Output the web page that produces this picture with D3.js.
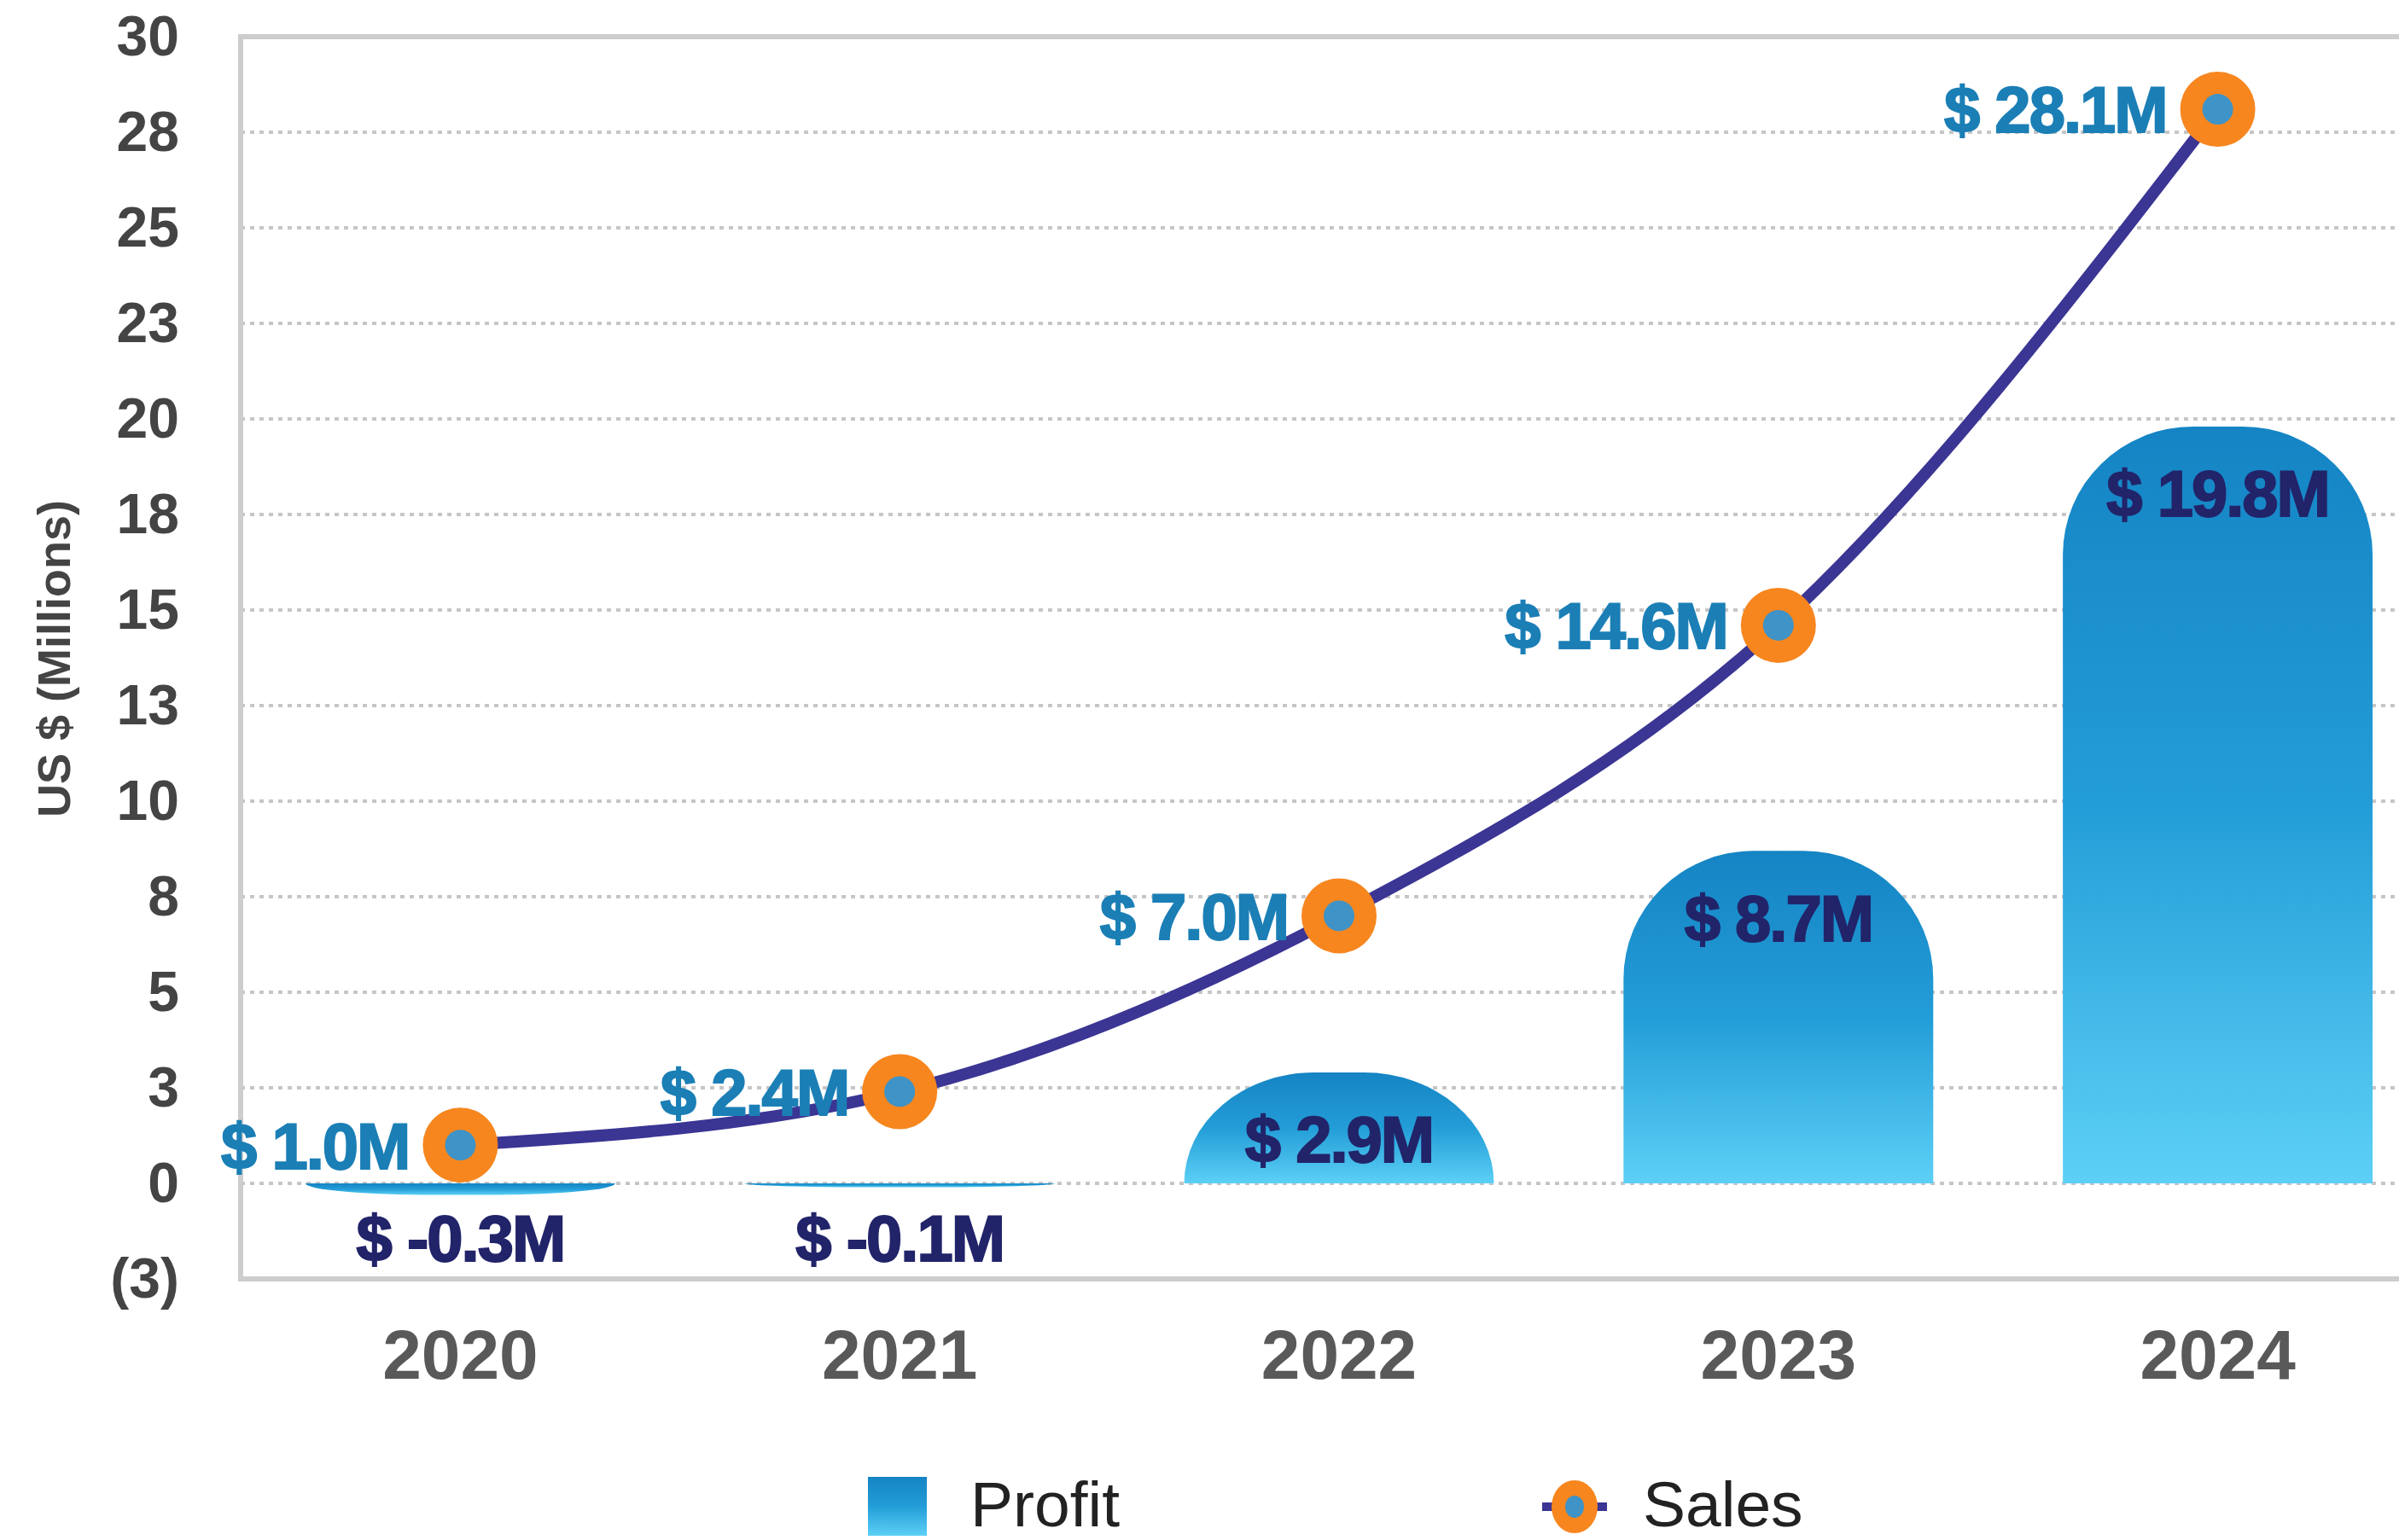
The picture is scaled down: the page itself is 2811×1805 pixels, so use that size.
<!DOCTYPE html>
<html>
<head>
<meta charset="utf-8">
<script src="https://cdn.jsdelivr.net/npm/d3@7"></script>
<style>
  html, body { margin: 0; padding: 0; background: #fff; }
  text { font-family: "Liberation Sans", Arial, Helvetica, sans-serif; }
</style>
</head>
<body>
<div id="chart"></div>
<script>
/* DATA */
const years = ["2020", "2021", "2022", "2023", "2024"];
const profit = [-0.3, -0.1, 2.9, 8.7, 19.8];
const sales = [1.0, 2.4, 7.0, 14.6, 28.1];
const yTickValues = [-2.5, 0, 2.5, 5, 7.5, 10, 12.5, 15, 17.5, 20, 22.5, 25, 27.5, 30];
const yTickLabels = ["(3)", "0", "3", "5", "8", "10", "13", "15", "18", "20", "23", "25", "28", "30"];

/* CONSTANTS */
const width = 2811,
  height = 1805,
  plot = { left: 282, right: 2856, top: 43, bottom: 1499 };

const rows = years.map((y, i) => ({ year: y, profit: profit[i], sales: sales[i] }));

const svg = d3.select("#chart")
  .append("svg")
  .attr("width", width)
  .attr("height", height);

// gradients
const defs = svg.append("defs");
const barGrad = defs.append("linearGradient")
  .attr("id", "barGrad")
  .attr("x1", 0).attr("y1", 0).attr("x2", 0).attr("y2", 1);
barGrad.append("stop").attr("offset", "0%").attr("stop-color", "#1584c4");
barGrad.append("stop").attr("offset", "50%").attr("stop-color", "#239dd7");
barGrad.append("stop").attr("offset", "100%").attr("stop-color", "#5cd0f6");

/* SCALES */
const xScale = d3.scaleBand()
  .domain(years)
  .range([plot.left, plot.right])
  .paddingInner(0.295)
  .paddingOuter(0.1475);

const yScale = d3.scaleLinear()
  .domain([-2.5, 30])
  .range([plot.bottom, plot.top]);

const cx = y => xScale(y) + xScale.bandwidth() / 2;

// + GRIDLINES
svg.append("g")
  .selectAll("line")
  .data(yTickValues.filter(v => v > -2.5 && v < 30))
  .join("line")
  .attr("x1", plot.left)
  .attr("x2", plot.right)
  .attr("y1", d => yScale(d))
  .attr("y2", d => yScale(d))
  .attr("stroke", "#c6c6c6")
  .attr("stroke-width", 4)
  .attr("stroke-dasharray", "5,6");

// + FRAME
svg.append("rect")
  .attr("x", plot.left)
  .attr("y", plot.top)
  .attr("width", plot.right - plot.left)
  .attr("height", plot.bottom - plot.top)
  .attr("fill", "none")
  .attr("stroke", "#cdcdcd")
  .attr("stroke-width", 6);

// + AXES
const yAxis = d3.axisLeft(yScale)
  .tickValues(yTickValues)
  .tickFormat(d => yTickLabels[yTickValues.indexOf(d)])
  .tickSize(0)
  .tickPadding(72);

const yAxisGroup = svg.append("g")
  .attr("transform", `translate(${plot.left},0)`)
  .call(yAxis);
yAxisGroup.select(".domain").remove();
yAxisGroup.selectAll("text")
  .attr("font-family", "Liberation Sans, Arial, sans-serif")
  .attr("font-size", 66)
  .attr("font-weight", "bold")
  .attr("fill", "#444");

const xAxis = d3.axisBottom(xScale).tickSize(0).tickPadding(59);
const xAxisGroup = svg.append("g")
  .attr("transform", `translate(0,${plot.bottom})`)
  .call(xAxis);
xAxisGroup.select(".domain").remove();
xAxisGroup.selectAll("text")
  .attr("font-family", "Liberation Sans, Arial, sans-serif")
  .attr("font-size", 82)
  .attr("font-weight", "bold")
  .attr("fill", "#595959");

svg.append("text")
  .attr("transform", `translate(63,772) rotate(-90)`)
  .attr("text-anchor", "middle")
  .attr("dominant-baseline", "central")
  .attr("font-size", 54)
  .attr("font-weight", "bold")
  .attr("fill", "#444")
  .text("US $ (Millions)");

// + PROFIT BARS (rounded at the far end)
function barPath(d) {
  const x0 = xScale(d.year), w = xScale.bandwidth();
  const y0 = yScale(0), y1 = yScale(d.profit);
  const h = Math.abs(y1 - y0);
  const rx = w * 0.42, ry = Math.min(150, h);
  if (d.profit >= 0) {
    return `M${x0},${y0}L${x0},${y1 + ry}A${rx},${ry} 0 0 1 ${x0 + rx},${y1}` +
      `L${x0 + w - rx},${y1}A${rx},${ry} 0 0 1 ${x0 + w},${y1 + ry}L${x0 + w},${y0}Z`;
  }
  return `M${x0},${y0}L${x0},${y1 - ry}A${rx},${ry} 0 0 0 ${x0 + rx},${y1}` +
    `L${x0 + w - rx},${y1}A${rx},${ry} 0 0 0 ${x0 + w},${y1 - ry}L${x0 + w},${y0}Z`;
}

svg.append("g")
  .selectAll("path")
  .data(rows)
  .join("path")
  .attr("d", barPath)
  .attr("fill", "url(#barGrad)");

svg.append("g")
  .selectAll("text")
  .data(rows)
  .join("text")
  .attr("x", d => cx(d.year))
  .attr("y", d => d.profit >= 0 ? yScale(d.profit) + 78 : yScale(0) + 64)
  .attr("dy", "0.36em")
  .attr("text-anchor", "middle")
  .attr("font-size", 76)
  .attr("font-weight", "bold")
  .attr("letter-spacing", -2)
  .attr("fill", "#22246a")
  .attr("stroke", "#22246a")
  .attr("stroke-width", 2)
  .text(d => `$ ${d.profit.toFixed(1)}M`);

// + SALES LINE
const lineFunction = d3.line()
  .x(d => cx(d.year))
  .y(d => yScale(d.sales))
  .curve(d3.curveMonotoneX);

svg.append("path")
  .datum(rows)
  .attr("d", lineFunction)
  .attr("fill", "none")
  .attr("stroke", "#3b3594")
  .attr("stroke-width", 14)
  .attr("stroke-linecap", "round");

const dots = svg.append("g")
  .selectAll("g")
  .data(rows)
  .join("g")
  .attr("transform", d => `translate(${cx(d.year)},${yScale(d.sales)})`);

dots.append("circle").attr("r", 44).attr("fill", "#f7861f");
dots.append("circle").attr("r", 18).attr("fill", "#3f93c6");

dots.append("text")
  .attr("x", -60)
  .attr("dy", "0.36em")
  .attr("text-anchor", "end")
  .attr("font-size", 76)
  .attr("font-weight", "bold")
  .attr("letter-spacing", -2)
  .attr("fill", "#1b7fb6")
  .attr("stroke", "#1b7fb6")
  .attr("stroke-width", 2)
  .text(d => `$ ${d.sales.toFixed(1)}M`);

// + LEGEND
const legend = svg.append("g");
legend.append("rect")
  .attr("x", 1017).attr("y", 1731)
  .attr("width", 69).attr("height", 69)
  .attr("fill", "url(#barGrad)");
legend.append("text")
  .attr("x", 1137).attr("y", 1789)
  .attr("font-size", 75)
  .attr("fill", "#222")
  .text("Profit");

legend.append("line")
  .attr("x1", 1807).attr("x2", 1883)
  .attr("y1", 1766).attr("y2", 1766)
  .attr("stroke", "#3b3594")
  .attr("stroke-width", 10);
legend.append("ellipse")
  .attr("cx", 1845).attr("cy", 1766)
  .attr("rx", 27).attr("ry", 31)
  .attr("fill", "#f7861f");
legend.append("ellipse")
  .attr("cx", 1845).attr("cy", 1766)
  .attr("rx", 11).attr("ry", 13)
  .attr("fill", "#3f93c6");
legend.append("text")
  .attr("x", 1925).attr("y", 1789)
  .attr("font-size", 75)
  .attr("fill", "#222")
  .text("Sales");
</script>
</body>
</html>
